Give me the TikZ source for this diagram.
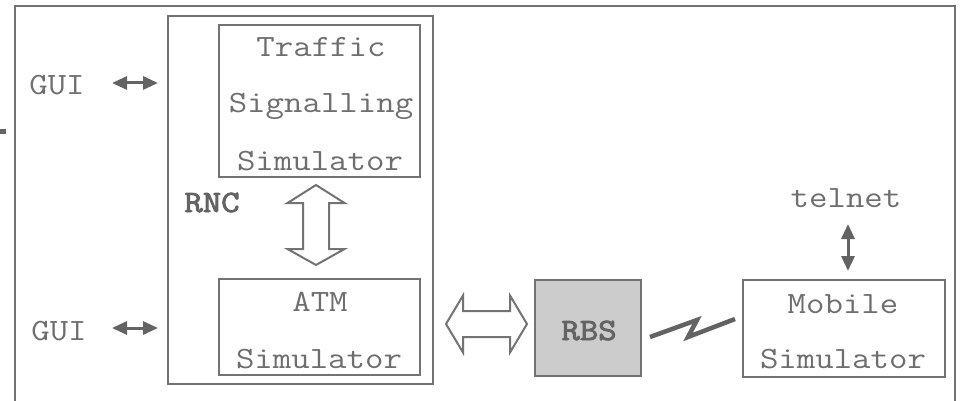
\documentclass[tikz,border=0pt]{standalone}
\usepackage{fontspec}
\usepackage{graphicx}
\newfontfamily\boldmono[FakeBold=2.5]{Latin Modern Mono}
\usetikzlibrary{arrows.meta,calc}
\definecolor{txt}{HTML}{6E6E6E}
\definecolor{frm}{HTML}{737373}
\definecolor{dark}{HTML}{636363}
\definecolor{rbsfill}{HTML}{CCCCCC}
\newcommand{\cw}[1]{\scalebox{1.155}[1]{#1}}
\begin{document}
\begin{tikzpicture}[x=1pt,y=-1pt,
  box/.style={draw=frm,line width=2.6pt,inner sep=0pt,outer sep=0pt},
  lbl/.style={font=\ttfamily\fontsize{31}{37}\selectfont,text=txt,anchor=base,inner sep=0pt},
  bolder/.style={font=\boldmono\fontsize{31}{37}\selectfont,text=dark},
  dbl/.style={line width=3pt,draw=dark,{Triangle[length=15pt,width=13pt]}-{Triangle[length=15pt,width=13pt]}},
  hollow/.style={draw=frm,line width=2pt,line join=miter,fill=white},
  zz/.style={draw=dark,line width=4.5pt,line join=miter}]
\useasboundingbox (0,0) rectangle (961,401);
\fill[dark] (0,129) rectangle (6,134);
\draw[frm,line width=2.4pt] (15,401) -- (15,6) -- (955,6) -- (955,401);
% boxes
\node[box,minimum width=265pt,minimum height=368pt] (rnc) at (300.5,200) {};
\node[box,minimum width=201pt,minimum height=152pt] (tss) at (319.5,101) {};
\node[box,minimum width=201pt,minimum height=96pt] (atm) at (319.5,327) {};
\node[box,fill=rbsfill,minimum width=106pt,minimum height=96pt] (rbs) at (588,328) {};
\node[box,minimum width=202pt,minimum height=97pt] (mob) at (844,328.5) {};
% texts
\node[lbl] (t1) at (321,57) {\cw{Traffic}};
\node[lbl] (t2) at (321,113) {\cw{Signalling}};
\node[lbl] (t3) at (320,170) {\cw{Simulator}};
\node[lbl] (a1) at (320,311) {\cw{ATM}};
\node[lbl] (a2) at (319,368) {\cw{Simulator}};
\node[lbl] (gui1) at (57,95) {\cw{GUI}};
\node[lbl] (gui2) at (59,340) {\cw{GUI}};
\node[lbl,bolder] (rnclbl) at (212,212) {\cw{RNC}};
\node[lbl,bolder] (rbslbl) at (589,340) {\cw{RBS}};
\node[lbl] (telnet) at (846,207) {\cw{telnet}};
\node[lbl] (m1) at (843,313) {\cw{Mobile}};
\node[lbl] (m2) at (843,368) {\cw{Simulator}};
% small arrows
\coordinate (g1a) at (112,83);
\coordinate (g2a) at (112,328);
\draw[dbl] (g1a) -- ($(g1a -| rnc.west)+(-10,0)$);
\draw[dbl] (g2a) -- ($(g2a -| rnc.west)+(-10,0)$);
\draw[dbl] ($(mob.north)+(4,17-73)$) -- ($(mob.north)+(4,-9)$);
% hollow arrows
\draw[hollow] (316,185) -- (344.5,203) -- (329,203) -- (329,249) -- (344.5,249) -- (316,265)
  -- (287.5,249) -- (303,249) -- (303,203) -- (287.5,203) -- cycle;
\draw[hollow] (446,324) -- (463,295.5) -- (463,311) -- (510,311) -- (510,295.5) -- (527,324)
  -- (510,352.5) -- (510,337) -- (463,337) -- (463,352.5) -- cycle;
% radio link
\draw[zz] (650,337) -- (697,320) -- (688,337) -- (735,319);
\end{tikzpicture}
\end{document}
